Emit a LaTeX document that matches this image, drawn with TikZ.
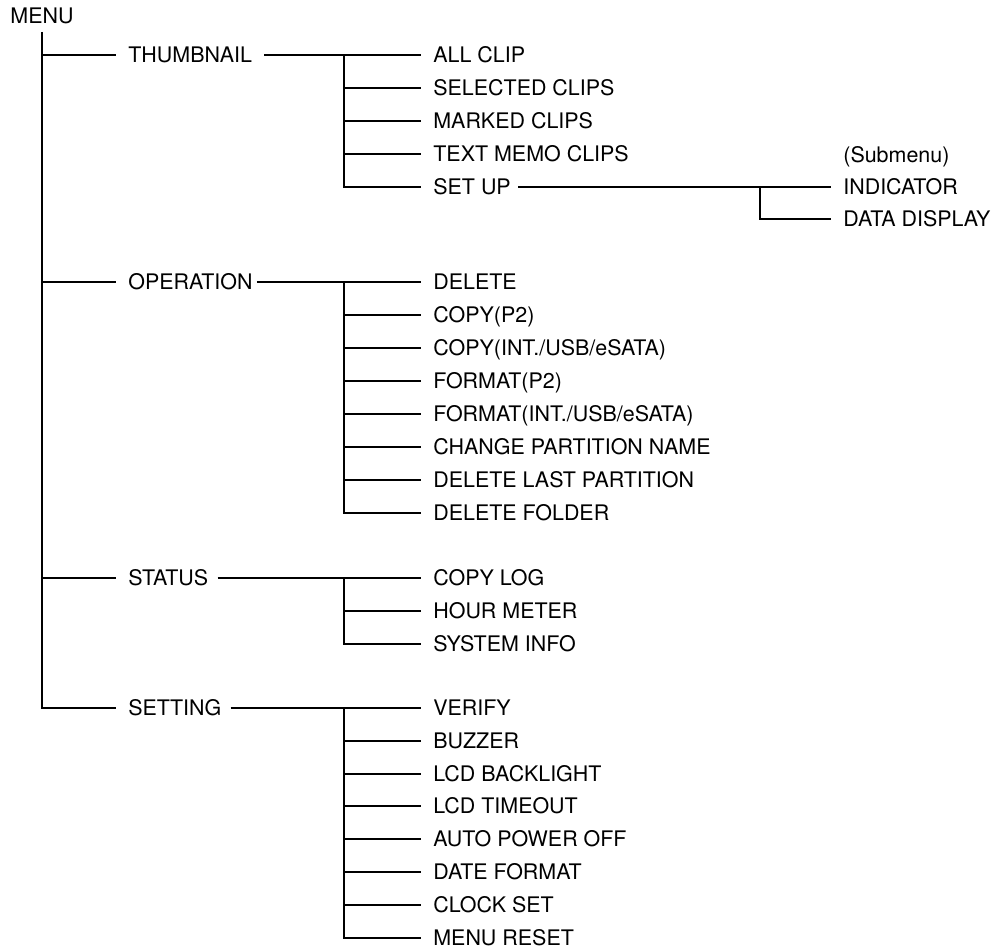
\documentclass[tikz,border=0pt]{standalone}
\usepackage{fontspec}
\setmainfont{TeX Gyre Heros}
\usepackage{tikz}
\tikzset{
  root/.style={
    rectangle, inner xsep=0pt, inner ysep=4.5pt,
    text height=8.7pt, text depth=0pt,
    font=\fontsize{12.2}{14}\selectfont,
  },
  item/.style={
    rectangle, anchor=west, inner xsep=0.24cm, inner ysep=0pt,
    text height=8.7pt, text depth=0pt,
    font=\fontsize{12.2}{14}\selectfont,
  },
  link/.style={
    line width=0.75pt, draw=black,
  }
}
\begin{document}
\begin{tikzpicture}

  \useasboundingbox (0,0) rectangle (20.04,-19.0);

  % Root and the four main entries
  \node[root] (menu) at (0.84,-0.32) {MENU};
  \node[item] (thumb) at (2.32,-1.10) {THUMBNAIL};
  \node[item] (oper)  at (2.32,-5.64) {OPERATION};
  \node[item] (stat)  at (2.32,-11.56) {STATUS};
  \node[item] (sett)  at (2.32,-14.16) {SETTING};

  \draw[link] (menu.south) |- (sett.west);
  \draw[link] (menu.south |- thumb.west) -- (thumb.west);
  \draw[link] (menu.south |- oper.west) -- (oper.west);
  \draw[link] (menu.south |- stat.west) -- (stat.west);

  % THUMBNAIL
  \node[item] (allclip)  at (8.42,-1.10) {ALL CLIP};
  \node[item] (selclips) at (8.42,-1.76) {SELECTED CLIPS};
  \node[item] (mrkclips) at (8.42,-2.42) {MARKED CLIPS};
  \node[item] (memclips) at (8.42,-3.08) {TEXT MEMO CLIPS};
  \node[item] (setup)    at (8.42,-3.74) {SET UP};

  \coordinate (jthumb) at (6.88,-1.10);
  \draw[link] (thumb.east) -- (allclip.west);
  \draw[link] (jthumb) |- (selclips.west);
  \draw[link] (jthumb) |- (mrkclips.west);
  \draw[link] (jthumb) |- (memclips.west);
  \draw[link] (jthumb) |- (setup.west);

  % SET UP submenu
  \node[item] (submenu)  at (16.62,-3.10) {(Submenu)};
  \node[item] (indic)    at (16.62,-3.74) {INDICATOR};
  \node[item] (datadisp) at (16.62,-4.38) {DATA DISPLAY};

  \coordinate (jsetup) at (15.20,-3.74);
  \draw[link] ([xshift=-0.1cm]setup.east) -- (indic.west);
  \draw[link] (jsetup) |- (datadisp.west);

  % OPERATION
  \node[item] (delete)   at (8.42,-5.64) {DELETE};
  \node[item] (copyp)    at (8.42,-6.30) {COPY(P2)};
  \node[item] (copyint)  at (8.42,-6.96) {COPY(INT./USB/eSATA)};
  \node[item] (fmtp)     at (8.42,-7.62) {FORMAT(P2)};
  \node[item] (fmtint)   at (8.42,-8.28) {FORMAT(INT./USB/eSATA)};
  \node[item] (chgpart)  at (8.42,-8.94) {CHANGE PARTITION NAME};
  \node[item] (dellast)  at (8.42,-9.60) {DELETE LAST PARTITION};
  \node[item] (delfold)  at (8.42,-10.26) {DELETE FOLDER};

  \coordinate (joper) at (6.88,-5.64);
  \draw[link] ([xshift=-0.16cm]oper.east) -- (delete.west);
  \draw[link] (joper) |- (copyp.west);
  \draw[link] (joper) |- (copyint.west);
  \draw[link] (joper) |- (fmtp.west);
  \draw[link] (joper) |- (fmtint.west);
  \draw[link] (joper) |- (chgpart.west);
  \draw[link] (joper) |- (dellast.west);
  \draw[link] (joper) |- (delfold.west);

  % STATUS
  \node[item] (copylog)  at (8.42,-11.56) {COPY LOG};
  \node[item] (hourmtr)  at (8.42,-12.22) {HOUR METER};
  \node[item] (sysinfo)  at (8.42,-12.88) {SYSTEM INFO};

  \coordinate (jstat) at (6.88,-11.56);
  \draw[link] ([xshift=-0.06cm]stat.east) -- (copylog.west);
  \draw[link] (jstat) |- (hourmtr.west);
  \draw[link] (jstat) |- (sysinfo.west);

  % SETTING
  \node[item] (verify)   at (8.42,-14.16) {VERIFY};
  \node[item] (buzzer)   at (8.42,-14.82) {BUZZER};
  \node[item] (lcdback)  at (8.42,-15.48) {LCD BACKLIGHT};
  \node[item] (lcdtime)  at (8.42,-16.12) {LCD TIMEOUT};
  \node[item] (autooff)  at (8.42,-16.78) {AUTO POWER OFF};
  \node[item] (datefmt)  at (8.42,-17.44) {DATE FORMAT};
  \node[item] (clockset) at (8.42,-18.10) {CLOCK SET};
  \node[item] (menurst)  at (8.42,-18.76) {MENU RESET};

  \coordinate (jsett) at (6.88,-14.16);
  \draw[link] ([xshift=-0.06cm]sett.east) -- (verify.west);
  \draw[link] (jsett) |- (buzzer.west);
  \draw[link] (jsett) |- (lcdback.west);
  \draw[link] (jsett) |- (lcdtime.west);
  \draw[link] (jsett) |- (autooff.west);
  \draw[link] (jsett) |- (datefmt.west);
  \draw[link] (jsett) |- (clockset.west);
  \draw[link] (jsett) |- (menurst.west);

\end{tikzpicture}
\end{document}
